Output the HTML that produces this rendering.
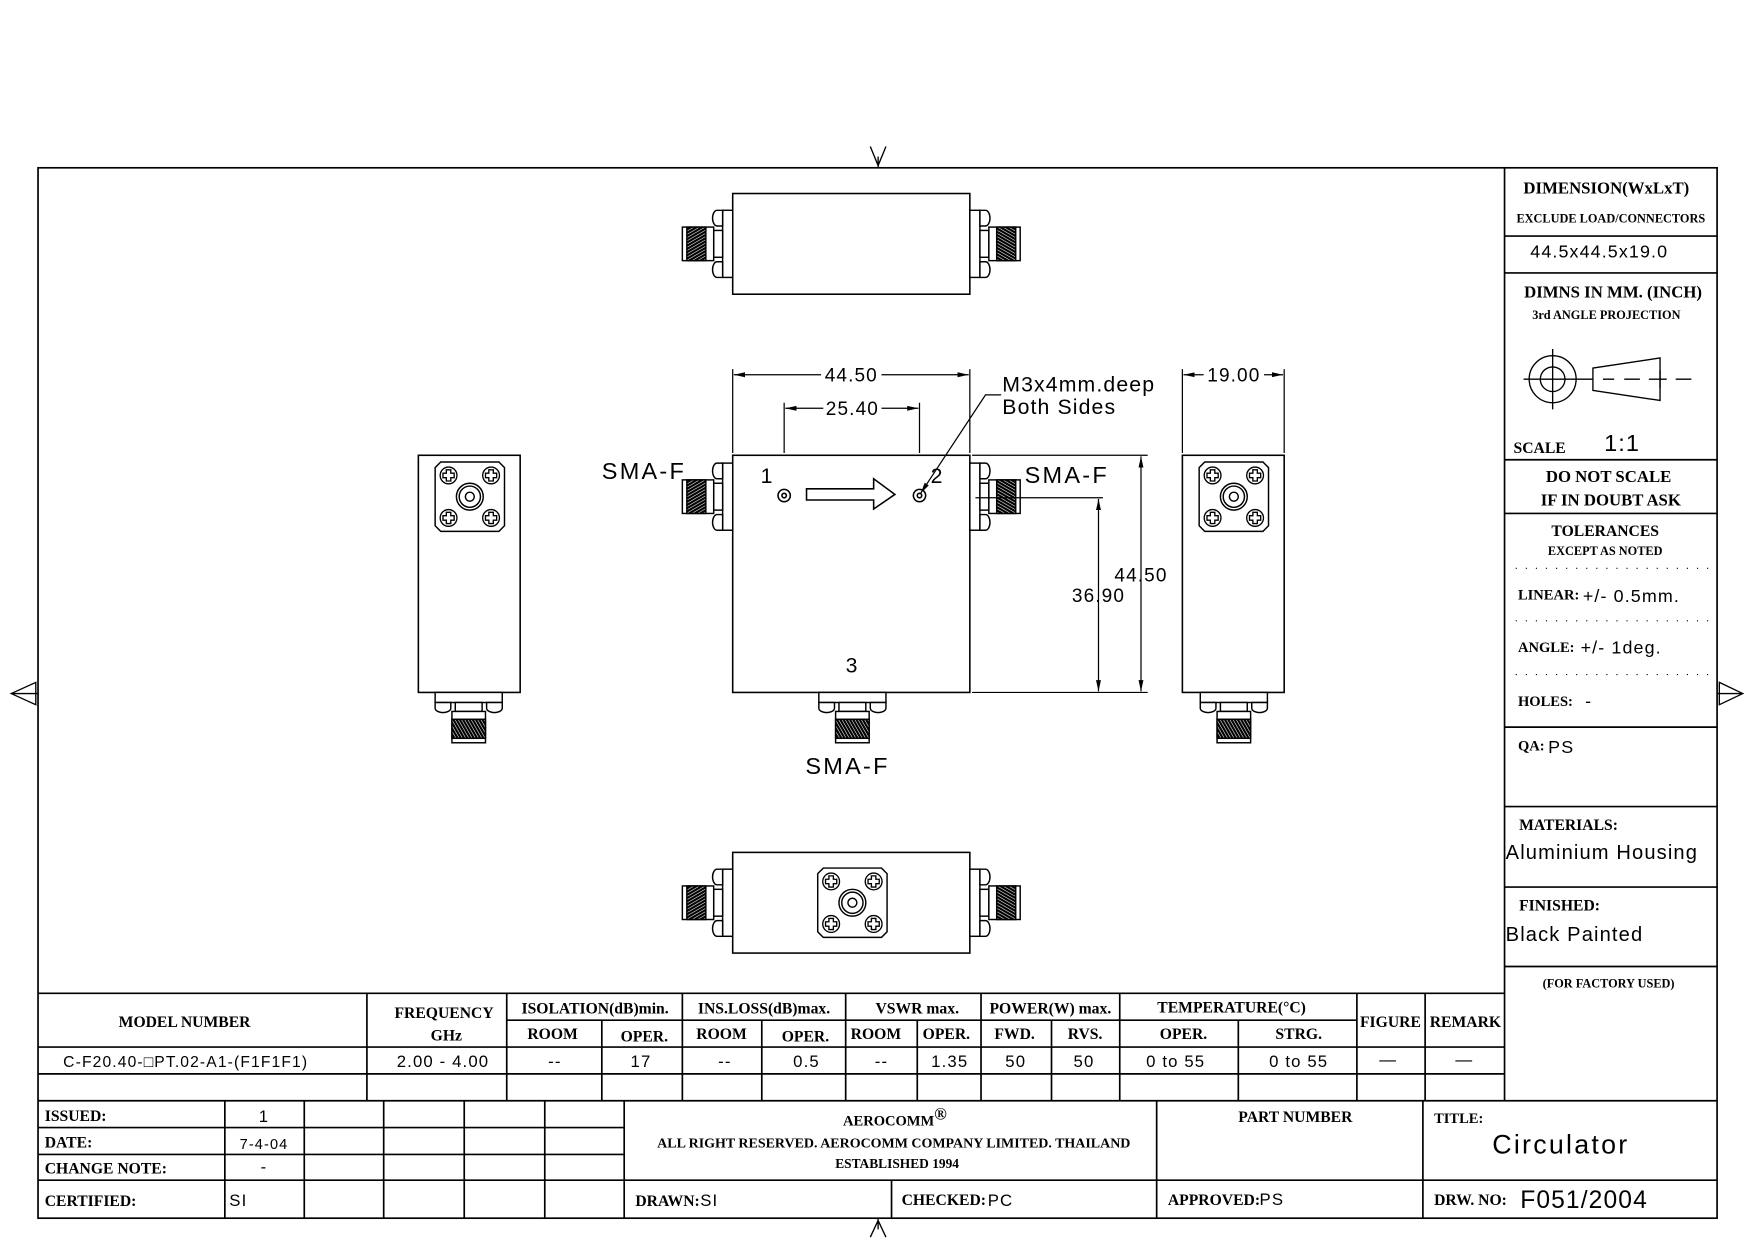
<!DOCTYPE html>
<html><head><meta charset="utf-8"><style>
html,body{margin:0;padding:0;background:#fff;}
svg{display:block;}
.b{font-family:"Liberation Serif",serif;font-weight:bold;fill:#000;}
.s{font-family:"Liberation Sans",sans-serif;fill:#000;letter-spacing:1px;}
</style></head><body>
<svg width="1754" height="1240" viewBox="0 0 1568 1108.5" preserveAspectRatio="none" xmlns="http://www.w3.org/2000/svg">
<defs>
<pattern id="hatch" width="2.5" height="2.5" patternUnits="userSpaceOnUse" patternTransform="rotate(60)">
<rect width="2.5" height="2.5" fill="#fff"/><rect width="2" height="2.5" fill="#000"/></pattern>
<g id="conn" fill="#fff" stroke="#000" stroke-width="1.3">
<rect x="-9" y="-30" width="9" height="60"/>
<path d="M-9,-30 h-5 a4,7 0 0 0 0,14 h5 z"/>
<path d="M-9,16 h-5 a4,7 0 0 0 0,14 h5 z"/>
<rect x="-17" y="-12" width="8" height="24"/>
<rect x="-45" y="-15" width="28" height="30"/>
<rect x="-41" y="-15" width="17" height="30" fill="url(#hatch)"/>
</g>
<g id="screw" fill="#fff" stroke="#000" stroke-width="1.2">
<circle r="7.5"/><path d="M-2,-5 h4 v3 h3 v4 h-3 v3 h-4 v-3 h-3 v-4 h3 z"/>
</g>
<g id="face" fill="#fff" stroke="#000" stroke-width="1.3">
<path d="M-26,-31 h52 l5,5 v52 l-5,5 h-52 l-5,-5 v-52 z"/>
<circle r="12"/><circle r="9.5"/><circle r="4"/>
<use href="#screw" x="-19" y="-19"/><use href="#screw" x="19" y="-19"/>
<use href="#screw" x="-19" y="19"/><use href="#screw" x="19" y="19"/>
</g>
<marker id="ar" viewBox="0 0 10 6" refX="10" refY="3" markerWidth="10" markerHeight="6" orient="auto-start-reverse" markerUnits="userSpaceOnUse">
<path d="M0,0.8 L10,3 L0,5.2 z" fill="#000"/></marker>
</defs>

<g fill="none" stroke="#000" stroke-width="1.5">
<rect x="34" y="150" width="1501" height="939"/>
<path d="M778,131 L785,148 L792,131 M785,140 V150" stroke-width="1.2"/>
<path d="M778,1106 L785,1091 L792,1106 M785,1089 V1099" stroke-width="1.2"/>
<path d="M10,620 L32,610 L32,630 z M10,620 H34" stroke-width="1.2"/>
<path d="M1558,620 L1537,610 L1537,630 z M1535,620 H1558" stroke-width="1.2"/>
<path d="M1345,150 V984 M1345,211 H1535 M1345,244 H1535 M1345,411 H1535 M1345,459 H1535 M1345,650 H1535 M1345,721 H1535 M1345,793 H1535 M1345,864 H1535"/>
<path d="M1355,508 H1528 M1355,555 H1528 M1355,603 H1528" stroke-width="1" stroke-dasharray="1,8"/>
<g stroke-width="1.2">
<circle cx="1388" cy="339" r="21"/><circle cx="1388" cy="339" r="11"/>
<path d="M1382,339 h12 M1388,333 v12 M1362,339 H1424 M1388,312 V366"/>
<path d="M1424,329 L1484,320 L1484,358 L1424,349 z"/>
<path d="M1433,339 h10 M1452,339 h14 M1474,339 h16 M1498,339 h14 M1484,331 v16"/>
</g>
<path d="M34,888 H1345 M453,912 H1213 M34,936 H1345 M34,960 H1345 M34,984 H1535"/>
<path d="M328,888 V984 M453,888 V984 M610,888 V984 M756,888 V984 M877,888 V984 M1001,888 V984 M1213,888 V984 M1274,888 V984"/>
<path d="M538,912 V984 M681,912 V984 M820,912 V984 M940,912 V984 M1107,912 V984"/>
<path d="M34,1008 H558 M34,1032 H558 M34,1055 H1535"/>
<path d="M201,984 V1089 M272,984 V1089 M343,984 V1089 M415,984 V1089 M487,984 V1089 M558,984 V1089 M797,1055 V1089 M1034,984 V1089 M1272,984 V1089"/>
</g>

<g fill="#fff" stroke="#000" stroke-width="1.4">
<rect x="655" y="173" width="212" height="90"/>
<use href="#conn" transform="translate(655,218)"/>
<use href="#conn" transform="translate(867,218) scale(-1,1)"/>
<rect x="655" y="407" width="212" height="212"/>
<use href="#conn" transform="translate(655,444)"/>
<use href="#conn" transform="translate(867,444) scale(-1,1)"/>
<use href="#conn" transform="translate(762,619) rotate(-90)"/>
<rect x="374" y="407" width="91" height="212"/>
<use href="#face" transform="translate(420,444)"/>
<use href="#conn" transform="translate(419,619) rotate(-90)"/>
<rect x="1057" y="407" width="91" height="212"/>
<use href="#face" transform="translate(1103,444)"/>
<use href="#conn" transform="translate(1103,619) rotate(-90)"/>
<rect x="655" y="762" width="212" height="90"/>
<use href="#face" transform="translate(762,807)"/>
<use href="#conn" transform="translate(655,807)"/>
<use href="#conn" transform="translate(867,807) scale(-1,1)"/>
<circle cx="701" cy="443" r="5.5"/><circle cx="701" cy="443" r="2"/>
<circle cx="822" cy="443" r="5.5"/><circle cx="822" cy="443" r="2"/>
<path d="M721,437 H781 V428 L800,442 L781,455 V447 H721 z"/>
</g>

<g fill="none" stroke="#000" stroke-width="1.1">
<path d="M655,405 V330 M867,405 V330 M701,405 V360 M822,405 V360 M1057,405 V330 M1148,405 V330"/>
<path d="M656,335 H866" marker-start="url(#ar)" marker-end="url(#ar)"/>
<path d="M702,365 H821" marker-start="url(#ar)" marker-end="url(#ar)"/>
<path d="M1058,335 H1147" marker-start="url(#ar)" marker-end="url(#ar)"/>
<path d="M869,407 H1026 M869,619 H1026 M872,445 H986"/>
<path d="M1020,408 V618" marker-start="url(#ar)" marker-end="url(#ar)"/>
<path d="M982,446 V618" marker-start="url(#ar)" marker-end="url(#ar)"/>
<path d="M895,353 H881 L823,441" marker-end="url(#ar)"/>
</g>
<g class="s" font-size="17" text-anchor="middle">
<rect x="734" y="325" width="54" height="18" fill="#fff"/>
<text x="761" y="341">44.50</text>
<rect x="736" y="355" width="52" height="18" fill="#fff"/>
<text x="762" y="371">25.40</text>
<rect x="1076" y="325" width="54" height="18" fill="#fff"/>
<text x="1103" y="341">19.00</text>
<text x="1020" y="520">44.50</text>
<text x="982" y="538">36.90</text>
</g>
<g class="s" font-size="19">
<text x="896" y="350">M3x4mm.deep</text>
<text x="896" y="370">Both Sides</text>
<text x="538" y="428" font-size="21" letter-spacing="2">SMA-F</text>
<text x="916" y="432" font-size="21" letter-spacing="2">SMA-F</text>
<text x="720" y="692" font-size="21" letter-spacing="2">SMA-F</text>
<text x="680" y="432">1</text>
<text x="832" y="432">2</text>
<text x="756" y="601">3</text>
</g>

<g class="b" font-size="14" text-anchor="middle">
<text x="1436" y="173" font-size="15">DIMENSION(WxLxT)</text>
<text x="1440" y="199" font-size="11">EXCLUDE LOAD/CONNECTORS</text>
<text x="1442" y="266" font-size="15">DIMNS IN MM. (INCH)</text>
<text x="1436" y="285" font-size="11">3rd ANGLE PROJECTION</text>
<text x="1438" y="431" font-size="15">DO NOT SCALE</text>
<text x="1440" y="452" font-size="15">IF IN DOUBT ASK</text>
<text x="1435" y="479" font-size="14">TOLERANCES</text>
<text x="1435" y="496" font-size="11">EXCEPT AS NOTED</text>
<text x="1438" y="883" font-size="11">(FOR FACTORY USED)</text>
</g>
<g class="b" font-size="14">
<text x="1353" y="405">SCALE</text>
<text x="1357" y="536" font-size="13">LINEAR:</text>
<text x="1357" y="583" font-size="13">ANGLE:</text>
<text x="1357" y="631" font-size="13">HOLES:</text>
<text x="1357" y="671" font-size="13">QA:</text>
<text x="1358" y="742" font-size="14">MATERIALS:</text>
<text x="1358" y="814" font-size="14">FINISHED:</text>
</g>
<g class="s" font-size="16">
<text x="1368" y="230">44.5x44.5x19.0</text>
<text x="1434" y="403" font-size="21">1:1</text>
<text x="1415" y="538">+/-  0.5mm.</text>
<text x="1413" y="584">+/-  1deg.</text>
<text x="1417" y="632">-</text>
<text x="1384" y="673">PS</text>
<text x="1346" y="768" font-size="18">Aluminium Housing</text>
<text x="1346" y="841" font-size="18">Black Painted</text>
</g>

<g class="b" font-size="14" text-anchor="middle">
<text x="165" y="918">MODEL NUMBER</text>
<text x="397" y="910">FREQUENCY</text>
<text x="399" y="930">GHz</text>
<text x="532" y="906">ISOLATION(dB)min.</text>
<text x="683" y="906">INS.LOSS(dB)max.</text>
<text x="820" y="906">VSWR max.</text>
<text x="939" y="906">POWER(W) max.</text>
<text x="1101" y="905">TEMPERATURE(°C)</text>
<text x="1243" y="918">FIGURE</text>
<text x="1310" y="918">REMARK</text>
<text x="494" y="929">ROOM</text><text x="576" y="931">OPER.</text>
<text x="645" y="929">ROOM</text><text x="720" y="931">OPER.</text>
<text x="783" y="929">ROOM</text><text x="846" y="929">OPER.</text>
<text x="907" y="929">FWD.</text><text x="970" y="929">RVS.</text>
<text x="1058" y="929">OPER.</text><text x="1161" y="929">STRG.</text>
</g>
<g class="s" font-size="15" text-anchor="middle">
<text x="166" y="954" font-size="14">C-F20.40-□PT.02-A1-(F1F1F1)</text>
<text x="396" y="954">2.00  -  4.00</text>
<text x="496" y="954">--</text><text x="573" y="954">17</text>
<text x="648" y="954">--</text><text x="721" y="954">0.5</text>
<text x="788" y="954">--</text><text x="849" y="954">1.35</text>
<text x="908" y="954">50</text><text x="969" y="954">50</text>
<text x="1051" y="954">0 to 55</text><text x="1161" y="954">0 to 55</text>
<text x="1241" y="952">—</text><text x="1309" y="952">—</text>
</g>
<g class="b" font-size="14">
<text x="40" y="1002">ISSUED:</text>
<text x="40" y="1026">DATE:</text>
<text x="40" y="1049">CHANGE NOTE:</text>
<text x="40" y="1078">CERTIFIED:</text>
<text x="568" y="1078">DRAWN:</text>
<text x="806" y="1077">CHECKED:</text>
<text x="1044" y="1077">APPROVED:</text>
<text x="1282" y="1004" font-size="13">TITLE:</text>
<text x="1282" y="1077">DRW. NO:</text>
<text x="1158" y="1003" text-anchor="middle">PART NUMBER</text>
<text x="800" y="1006" text-anchor="middle" font-size="13">AEROCOMM<tspan font-size="15" dy="-5">®</tspan></text>
<text x="799" y="1026" text-anchor="middle" font-size="12.5">ALL RIGHT RESERVED. AEROCOMM COMPANY LIMITED. THAILAND</text>
<text x="802" y="1044" text-anchor="middle" font-size="12">ESTABLISHED 1994</text>
</g>
<g class="s" font-size="15">
<text x="236" y="1003" text-anchor="middle">1</text>
<text x="236" y="1027" text-anchor="middle" font-size="13">7-4-04</text>
<text x="236" y="1048" text-anchor="middle">-</text>
<text x="205" y="1078">SI</text>
<text x="626" y="1078">SI</text>
<text x="883" y="1078">PC</text>
<text x="1126" y="1077">PS</text>
<text x="1334" y="1031" font-size="24" letter-spacing="2">Circulator</text>
<text x="1359" y="1080" font-size="22">F051/2004</text>
</g>
</svg>
</body></html>
